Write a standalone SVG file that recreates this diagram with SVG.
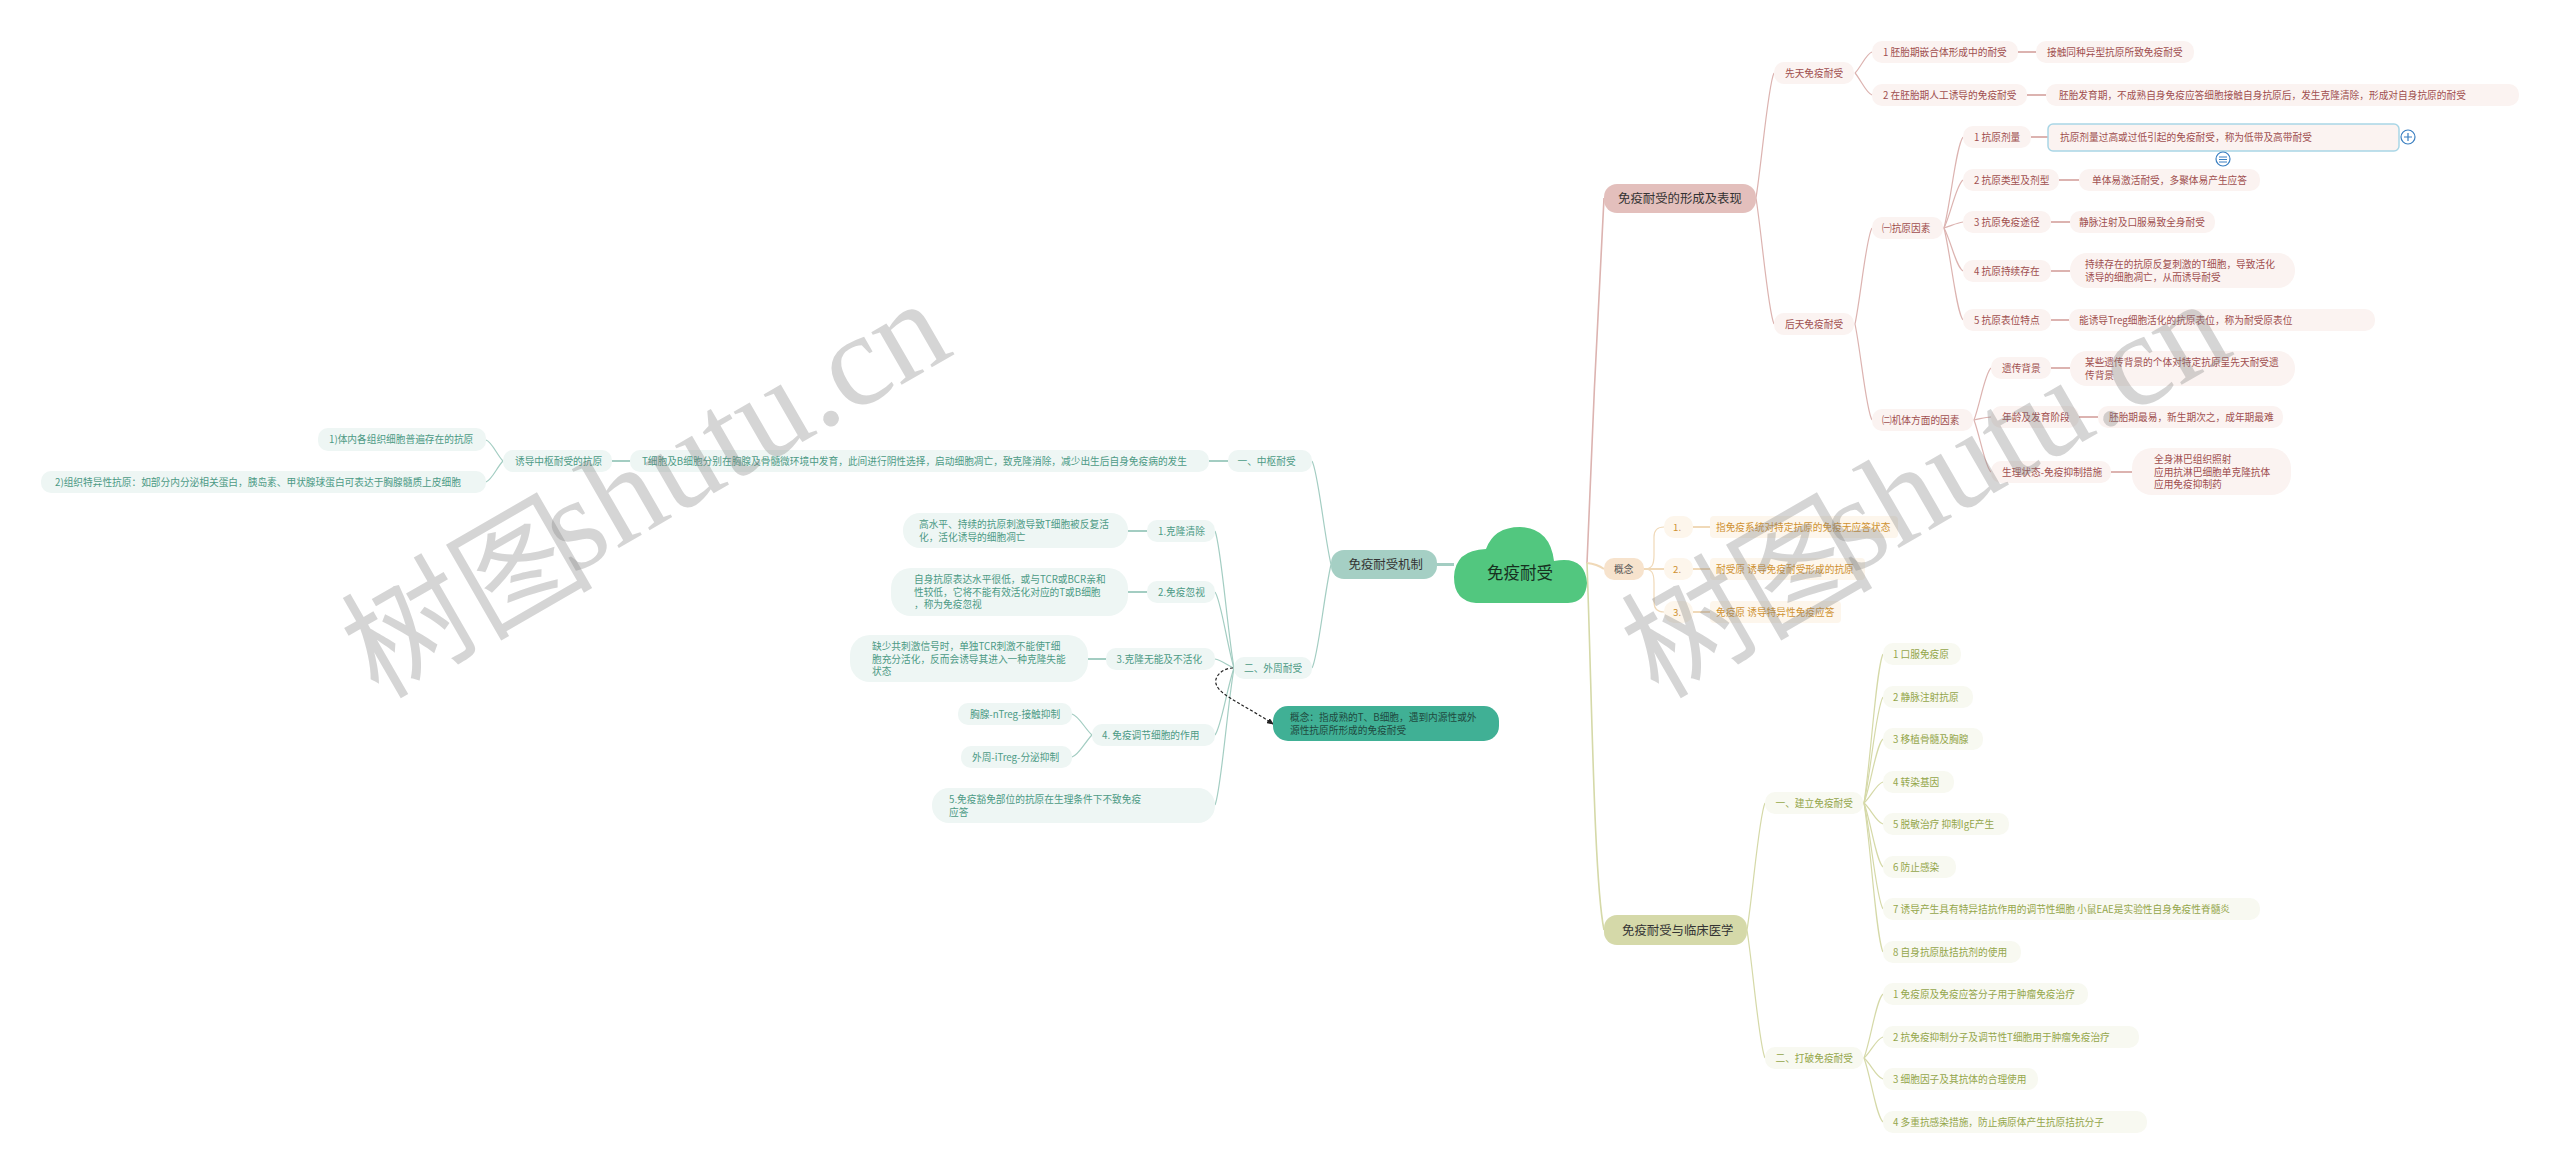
<svg xmlns="http://www.w3.org/2000/svg" width="2560" height="1174" viewBox="0 0 2560 1174">
<defs>
<marker id="arr" markerWidth="7" markerHeight="6" refX="6" refY="3" orient="auto" markerUnits="userSpaceOnUse"><path d="M0 0L7 3L0 6Z" fill="#222"/></marker>
</defs>
<style>
text{font-family:"Noto Sans CJK SC","Noto Sans",sans-serif;font-size:9.7px}
.r rect{fill:#fbf3f1}.r text{fill:#a04f4f}
.p rect{fill:#fdf6ec}.p text{fill:#cf9232}
.o rect{fill:#f8f9f1}.o text{fill:#94a64a}
.g rect{fill:#eef6f4}.g text{fill:#4c9a85}
.h text{font-size:12.4px;fill:#333}
.c path{fill:none;stroke-width:1.2}
.cr path{stroke:#dcb3b0}.cp path{stroke:#f0d9b8}.co path{stroke:#d5d9a8}.cg path{stroke:#a3cdc2}
.s path{stroke-width:2}
.wm{font-family:"Liberation Serif","Noto Sans CJK SC",serif;font-size:132px;fill:#808080;fill-opacity:.33}
</style>

<g id="connectors" class="c">
<g class="cr">
<path d="M1587 563C1590 480 1600 260 1604 198" style="stroke-width:1.6"/>
<path d="M1756 198C1762 160 1768 85 1774 73"/>
<path d="M1756 198C1762 236 1768 311 1774 324"/>
<path d="M1855 73C1861 67 1866 54 1872 52"/>
<path d="M1855 73C1861 80 1866 93 1872 95"/>
<path d="M1855 324C1861 295 1866 238 1872 228"/>
<path d="M1855 324C1861 353 1866 410 1872 420"/>
<path d="M1944 228C1951 201 1956 146 1963 137"/>
<path d="M1944 228C1951 214 1956 185 1963 180"/>
<path d="M1944 228C1951 226 1956 223 1963 222"/>
<path d="M1944 228C1951 241 1956 267 1963 271"/>
<path d="M1944 228C1951 256 1956 311 1963 320"/>
<path d="M1974 420C1980 404 1985 373 1991 368"/>
<path d="M1974 420C1980 419 1985 417 1991 417"/>
<path d="M1974 420C1980 436 1985 467 1991 472"/>
<g class="s">
<path d="M2018 52H2036"/><path d="M2027 95H2046"/><path d="M2031 137H2048"/><path d="M2059 180H2079"/><path d="M2051 222H2070"/><path d="M2051 271H2070"/><path d="M2051 320H2069"/><path d="M2051 368H2070"/><path d="M2079 417H2098"/><path d="M2111 472H2132"/>
</g>
</g>
<g class="cp">
<path d="M1587 563Q1597 564 1604 569" style="stroke-width:2"/>
<path d="M1644 569C1652 569 1654 565 1654 555V537Q1654 527 1664 527"/>
<path d="M1644 569C1652 569 1654 573 1654 583V602Q1654 612 1664 612"/>
<g class="s"><path d="M1644 569H1664"/><path d="M1693 527H1710"/><path d="M1693 569H1710"/><path d="M1693 612H1710"/></g>
</g>
<g class="co">
<path d="M1587 563C1592 700 1594 880 1604 930" style="stroke-width:1.6"/>
<path d="M1747 930C1753 892 1759 816 1765 803"/>
<path d="M1747 930C1753 968 1759 1045 1765 1058"/>
<path d="M1864 803C1871 758 1876 669 1883 654"/>
<path d="M1864 803C1871 771 1876 708 1883 697"/>
<path d="M1864 803C1871 784 1876 745 1883 739"/>
<path d="M1864 803C1871 797 1876 784 1883 782"/>
<path d="M1864 803C1871 809 1876 822 1883 824"/>
<path d="M1864 803C1871 822 1876 861 1883 867"/>
<path d="M1864 803C1871 835 1876 898 1883 909"/>
<path d="M1864 803C1871 848 1876 937 1883 952"/>
<path d="M1864 1058C1871 1039 1876 1000 1883 994"/>
<path d="M1864 1058C1871 1052 1876 1039 1883 1037"/>
<path d="M1864 1058C1871 1064 1876 1077 1883 1079"/>
<path d="M1864 1058C1871 1077 1876 1116 1883 1122"/>
</g>
<g class="cg">
<path d="M1437 564.5H1454" style="stroke-width:3"/>
<path d="M1331 564.5C1324 534 1318 471 1312 461"/>
<path d="M1331 564.5C1324 595 1318 658 1312 668"/>
<path d="M503 461C497 455 492 442 486 440"/>
<path d="M503 461C497 467 492 480 486 482"/>
<path d="M1234 668C1227 627 1221 545 1215 531"/>
<path d="M1234 668C1227 645 1221 600 1215 592"/>
<path d="M1234 668C1227 665 1221 660 1215 659"/>
<path d="M1234 668C1227 688 1221 728 1215 735"/>
<path d="M1234 668C1227 709 1221 791 1215 805"/>
<path d="M1092 735C1085 729 1079 716 1072 714"/>
<path d="M1092 735C1085 742 1079 755 1072 757"/>
<g class="s"><path d="M1209 461H1228"/><path d="M612 461H630"/><path d="M1128 531H1147"/><path d="M1128 592H1147"/><path d="M1088 659H1106"/></g>
</g>
<path d="M1233 668C1222 668 1212 678 1217 686C1221 696 1250 708 1273 724" style="stroke:#222;stroke-width:1.2;stroke-dasharray:3 2" marker-end="url(#arr)"/>
</g>

<g id="root"><path d="M1476 603Q1454 601 1454 577Q1455 550 1486 549Q1494 527 1520 527Q1550 528 1554 561Q1585 555 1587 583Q1586 602 1568 603Z" fill="#52c77f"/><text x="1520" y="579" text-anchor="middle" style="font-size:16.5px;fill:#16301f">免疫耐受</text></g>

<g class="r">
<g id="b1" class="h"><rect x="1604" y="184" width="152" height="29" rx="13" style="fill:#e3bfbc"/><text x="1618" y="203">免疫耐受的形成及表现</text></g>
<g id="r1"><rect x="1774" y="62" width="80" height="22" rx="10"/><text x="1785" y="76.500">先天免疫耐受</text></g>
<g id="r2"><rect x="1872" y="41" width="146" height="22" rx="10"/><text x="1883" y="55.500">1 胚胎期嵌合体形成中的耐受</text></g>
<g id="r3"><rect x="2036" y="41" width="158" height="22" rx="10"/><text x="2047" y="55.500">接触同种异型抗原所致免疫耐受</text></g>
<g id="r4"><rect x="1872" y="84" width="155" height="22" rx="10"/><text x="1883" y="98.500">2 在胚胎期人工诱导的免疫耐受</text></g>
<g id="r5"><rect x="2046" y="84" width="473" height="22" rx="10"/><text x="2059" y="98.500">胚胎发育期，不成熟自身免疫应答细胞接触自身抗原后，发生克隆清除，形成对自身抗原的耐受</text></g>
<g id="r6"><rect x="1774" y="313" width="80" height="22" rx="10"/><text x="1785" y="327.500">后天免疫耐受</text></g>
<g id="r7"><rect x="1872" y="217" width="71" height="22" rx="10"/><text x="1882" y="231.500">㈠抗原因素</text></g>
<g id="r8"><rect x="1963" y="126" width="68" height="22" rx="10"/><text x="1974" y="140.500">1 抗原剂量</text></g>
<g id="r9"><rect x="2048" y="124" width="351" height="27" rx="5" style="stroke:#a9d6e6;stroke-width:1.5"/><text x="2060" y="140.500">抗原剂量过高或过低引起的免疫耐受，称为低带及高带耐受</text></g>
<g id="r10"><rect x="1963" y="169" width="96" height="22" rx="10"/><text x="1974" y="183.500">2 抗原类型及剂型</text></g>
<g id="r11"><rect x="2079" y="169" width="181" height="22" rx="10"/><text x="2092" y="183.500">单体易激活耐受，多聚体易产生应答</text></g>
<g id="r12"><rect x="1963" y="211" width="88" height="22" rx="10"/><text x="1974" y="225.500">3 抗原免疫途径</text></g>
<g id="r13"><rect x="2070" y="211" width="145" height="22" rx="10"/><text x="2079" y="225.500">静脉注射及口服易致全身耐受</text></g>
<g id="r14"><rect x="1963" y="260" width="88" height="22" rx="10"/><text x="1974" y="274.500">4 抗原持续存在</text></g>
<g id="r15"><rect x="2070" y="253" width="225" height="35" rx="17"/><text x="2085" y="268">持续存在的抗原反复刺激的T细胞，导致活化</text><text x="2085" y="281">诱导的细胞凋亡，从而诱导耐受</text></g>
<g id="r16"><rect x="1963" y="309" width="88" height="22" rx="10"/><text x="1974" y="323.500">5 抗原表位特点</text></g>
<g id="r17"><rect x="2069" y="309" width="306" height="22" rx="10"/><text x="2079" y="323.500">能诱导Treg细胞活化的抗原表位，称为耐受原表位</text></g>
<g id="r18"><rect x="1872" y="409" width="101" height="22" rx="10"/><text x="1882" y="423.500">㈡机体方面的因素</text></g>
<g id="r19"><rect x="1991" y="357" width="60" height="22" rx="10"/><text x="2002" y="371.500">遗传背景</text></g>
<g id="r20"><rect x="2070" y="351" width="225" height="35" rx="17"/><text x="2085" y="366">某些遗传背景的个体对特定抗原呈先天耐受遗</text><text x="2085" y="379">传背景</text></g>
<g id="r21"><rect x="1991" y="406" width="88" height="22" rx="10"/><text x="2002" y="420.500">年龄及发育阶段</text></g>
<g id="r22"><rect x="2098" y="406" width="185" height="22" rx="10"/><text x="2109" y="420.500">胚胎期最易，新生期次之，成年期最难</text></g>
<g id="r23"><rect x="1991" y="461" width="120" height="22" rx="10"/><text x="2002" y="475.500">生理状态-免疫抑制措施</text></g>
<g id="r24"><rect x="2132" y="448" width="159" height="47" rx="20"/><text x="2154" y="463">全身淋巴组织照射</text><text x="2154" y="475.500">应用抗淋巴细胞单克隆抗体</text><text x="2154" y="488">应用免疫抑制药</text></g>
</g>
<g id="tool-plus"><circle cx="2408" cy="137" r="7" fill="#fff" stroke="#3a7fc1" stroke-width="1.2"/><path d="M2404 137H2412M2408 133V141" stroke="#3a7fc1" stroke-width="1.2"/></g>
<g id="tool-gather"><circle cx="2223" cy="159" r="7" fill="#fff" stroke="#3a7fc1" stroke-width="1.2"/><path d="M2219 157H2227M2219 159.500H2227M2219 162H2227" stroke="#3a7fc1" stroke-width="1"/></g>

<g class="p">
<g id="b2"><rect x="1604" y="558" width="40" height="22" rx="10" style="fill:#f7e3cd"/><text x="1614" y="572.500" style="fill:#555">概念</text></g>
<g id="p1"><rect x="1664" y="516" width="29" height="22" rx="10"/><text x="1673" y="530.500">1.</text></g>
<g id="p2"><rect x="1710" y="516" width="188" height="22" rx="4"/><text x="1716" y="530.500">指免疫系统对特定抗原的免疫无应答状态</text></g>
<g id="p3"><rect x="1664" y="558" width="29" height="22" rx="10"/><text x="1673" y="572.500">2.</text></g>
<g id="p4"><rect x="1710" y="558" width="155" height="22" rx="4"/><text x="1716" y="572.500">耐受原  诱导免疫耐受形成的抗原</text></g>
<g id="p5"><rect x="1664" y="601" width="29" height="22" rx="10"/><text x="1673" y="615.500">3.</text></g>
<g id="p6"><rect x="1710" y="601" width="131" height="22" rx="4"/><text x="1716" y="615.500">免疫原  诱导特异性免疫应答</text></g>
</g>

<g class="o">
<g id="b3" class="h"><rect x="1604" y="915" width="143" height="30" rx="13" style="fill:#d5d9a9"/><text x="1622" y="934.500">免疫耐受与临床医学</text></g>
<g id="o1"><rect x="1765" y="792" width="98" height="22" rx="10"/><text x="1775.500" y="806.500">一、建立免疫耐受</text></g>
<g id="o2"><rect x="1883" y="643" width="78" height="22" rx="10"/><text x="1893" y="657.500">1 口服免疫原</text></g>
<g id="o3"><rect x="1883" y="686" width="90" height="22" rx="10"/><text x="1893" y="700.500">2 静脉注射抗原</text></g>
<g id="o4"><rect x="1883" y="728" width="100" height="22" rx="10"/><text x="1893" y="742.500">3 移植骨髓及胸腺</text></g>
<g id="o5"><rect x="1883" y="771" width="71" height="22" rx="10"/><text x="1893" y="785.500">4 转染基因</text></g>
<g id="o6"><rect x="1883" y="813" width="126" height="22" rx="10"/><text x="1893" y="827.500">5 脱敏治疗 抑制IgE产生</text></g>
<g id="o7"><rect x="1883" y="856" width="73" height="22" rx="10"/><text x="1893" y="870.500">6 防止感染</text></g>
<g id="o8"><rect x="1883" y="898" width="377" height="22" rx="10"/><text x="1893" y="912.500">7 诱导产生具有特异拮抗作用的调节性细胞 小鼠EAE是实验性自身免疫性脊髓炎</text></g>
<g id="o9"><rect x="1883" y="941" width="138" height="22" rx="10"/><text x="1893" y="955.500">8 自身抗原肽拮抗剂的使用</text></g>
<g id="o10"><rect x="1765" y="1047" width="98" height="22" rx="10"/><text x="1775.500" y="1061.500">二、打破免疫耐受</text></g>
<g id="o11"><rect x="1883" y="983" width="205" height="22" rx="10"/><text x="1893" y="997.500">1 免疫原及免疫应答分子用于肿瘤免疫治疗</text></g>
<g id="o12"><rect x="1883" y="1026" width="256" height="22" rx="10"/><text x="1893" y="1040.500">2 抗免疫抑制分子及调节性T细胞用于肿瘤免疫治疗</text></g>
<g id="o13"><rect x="1883" y="1068" width="155" height="22" rx="10"/><text x="1893" y="1082.500">3 细胞因子及其抗体的合理使用</text></g>
<g id="o14"><rect x="1883" y="1111" width="264" height="22" rx="10"/><text x="1893" y="1125.500">4 多重抗感染措施，防止病原体产生抗原拮抗分子</text></g>
</g>

<g class="g">
<g id="b4" class="h"><rect x="1331" y="550" width="106" height="29" rx="13" style="fill:#a5cfc4"/><text x="1348.500" y="569">免疫耐受机制</text></g>
<g id="g1"><rect x="1228" y="450" width="84" height="22" rx="10"/><text x="1237.500" y="464.500">一、中枢耐受</text></g>
<g id="g2"><rect x="630" y="450" width="579" height="22" rx="10"/><text x="642" y="464.500">T细胞及B细胞分别在胸腺及骨髓微环境中发育，此间进行阴性选择，启动细胞凋亡，致克隆消除，减少出生后自身免疫病的发生</text></g>
<g id="g3"><rect x="503" y="450" width="109" height="22" rx="10"/><text x="515" y="464.500">诱导中枢耐受的抗原</text></g>
<g id="g4"><rect x="318" y="428" width="168" height="23" rx="10"/><text x="329" y="443">1)体内各组织细胞普遍存在的抗原</text></g>
<g id="g5"><rect x="41" y="471" width="445" height="22" rx="10"/><text x="55" y="485.500">2)组织特异性抗原：如部分内分泌相关蛋白，胰岛素、甲状腺球蛋白可表达于胸腺髓质上皮细胞</text></g>
<g id="g6"><rect x="1234" y="657" width="78" height="22" rx="10"/><text x="1244" y="671.500">二、外周耐受</text></g>
<g id="g7"><rect x="1147" y="520" width="68" height="22" rx="10"/><text x="1158" y="534.500">1.克隆清除</text></g>
<g id="g8"><rect x="903" y="513" width="225" height="35" rx="17"/><text x="919" y="528">高水平、持续的抗原刺激导致T细胞被反复活</text><text x="919" y="541">化，活化诱导的细胞凋亡</text></g>
<g id="g9"><rect x="1147" y="581" width="68" height="22" rx="10"/><text x="1158" y="595.500">2.免疫忽视</text></g>
<g id="g10"><rect x="891" y="568" width="237" height="48" rx="20"/><text x="914" y="583">自身抗原表达水平很低，或与TCR或BCR亲和</text><text x="914" y="595.500">性较低，它将不能有效活化对应的T或B细胞</text><text x="914" y="608">，称为免疫忽视</text></g>
<g id="g11"><rect x="1106" y="648" width="109" height="22" rx="10"/><text x="1116.500" y="662.500">3.克隆无能及不活化</text></g>
<g id="g12"><rect x="850" y="635" width="238" height="47" rx="20"/><text x="872" y="650">缺少共刺激信号时，单独TCR刺激不能使T细</text><text x="872" y="662.500">胞充分活化，反而会诱导其进入一种克隆失能</text><text x="872" y="675">状态</text></g>
<g id="g13"><rect x="1092" y="724" width="123" height="22" rx="10"/><text x="1102" y="738.500">4. 免疫调节细胞的作用</text></g>
<g id="g14"><rect x="958" y="703" width="114" height="22" rx="10"/><text x="970" y="717.500">胸腺-nTreg-接触抑制</text></g>
<g id="g15"><rect x="961" y="746" width="111" height="22" rx="10"/><text x="972" y="760.500">外周-iTreg-分泌抑制</text></g>
<g id="g16"><rect x="932" y="788" width="283" height="35" rx="17"/><text x="949" y="803">5.免疫豁免部位的抗原在生理条件下不致免疫</text><text x="949" y="816">应答</text></g>
<g id="g17"><rect x="1273" y="706" width="226" height="35" rx="15" style="fill:#40b095"/><text x="1290" y="721" style="fill:#1f4a40">概念：指成熟的T、B细胞，遇到内源性或外</text><text x="1290" y="734" style="fill:#1f4a40">源性抗原所形成的免疫耐受</text></g>
</g>

<g id="watermark">
<text class="wm" style="font-size:126px" transform="translate(378 700) rotate(-30)">树图</text>
<text class="wm" transform="translate(572 575) rotate(-30)">shutu.cn</text>
<text class="wm" style="font-size:126px" transform="translate(1658 700) rotate(-30)">树图</text>
<text class="wm" transform="translate(1852 575) rotate(-30)">shutu.cn</text>
</g>
</svg>
